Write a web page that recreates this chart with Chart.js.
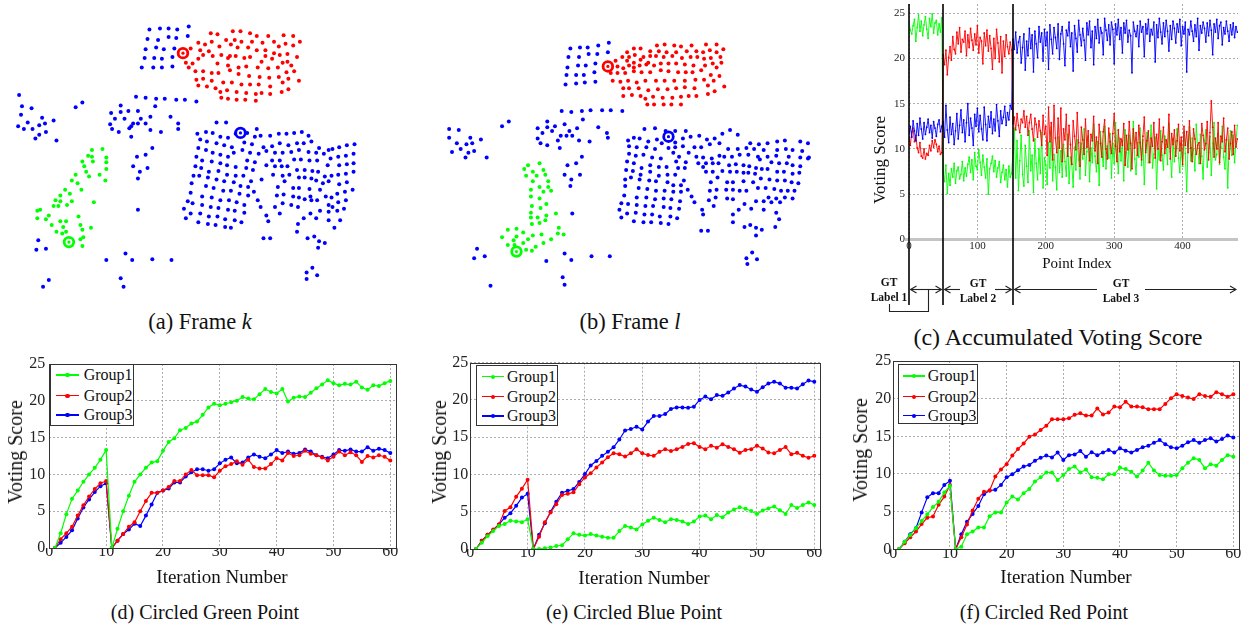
<!DOCTYPE html>
<html>
<head>
<meta charset="utf-8">
<title>Voting score figure</title>
<script src="https://cdn.jsdelivr.net/npm/chart.js@4.4.1/dist/chart.umd.min.js"></script>
<style>
  html, body { margin: 0; padding: 0; background: #fff; }
  body { position: relative; width: 1242px; height: 625px; overflow: hidden; font-family: "Liberation Serif", "Times New Roman", serif; color: #111; }
  .panel { position: absolute; }
  .panel canvas { display: block; }
  .txt { position: absolute; white-space: nowrap; line-height: 1; transform: translate(-50%, -50%); }
  .legend { position: absolute; border: 1px solid #333; background: #fff; box-sizing: border-box; }
  .legend div, .legend span { position: absolute; }
  .legend span { white-space: nowrap; line-height: 1; font-size: 16px; transform: translateY(-50%); }
</style>
</head>
<body>
<div class="panel" style="left:0;top:0"><canvas id="frameK" width="365" height="300"></canvas></div>
<div class="panel" style="left:430px;top:0"><canvas id="frameL" width="400" height="300"></canvas></div>
<div class="panel" style="left:860px;top:0"><canvas id="accScore" width="382" height="320"></canvas></div>
<div class="panel" style="left:0;top:352px"><canvas id="greenPt" width="400" height="215"></canvas></div>
<div class="panel" style="left:420px;top:352px"><canvas id="bluePt" width="405" height="215"></canvas></div>
<div class="panel" style="left:840px;top:352px"><canvas id="redPt" width="403" height="215"></canvas></div>
<script>
// ---- shared ----
const groupNames = ['Group1', 'Group2', 'Group3'];
const groupColors = ['#00ff00', '#ff0000', '#0000ff'];
const scoreTicks = [0, 5, 10, 15, 20, 25];
const iterTicks = [0, 10, 20, 30, 40, 50, 60];
const pointIndexTicks = [0, 100, 200, 300, 400];

// ---- (a) Frame k : point positions ----
const frameKGreen = [[88,150],[99,149],[84,156],[88,157],[78,162],[89,162],[103,158],[103,163],[80,167],[82,173],[85,178],[71,176],[103,170],[96,176],[102,182],[67,182],[73,185],[60,192],[65,196],[77,192],[55,198],[50,203],[55,204],[67,204],[48,209],[53,209],[62,208],[90,205],[31,214],[34,213],[43,219],[31,222],[40,223],[74,220],[46,229],[55,225],[61,225],[58,231],[76,229],[87,232],[51,236],[61,236],[78,234],[57,238],[79,242],[76,244],[78,251]];
const frameKRed = [[212,27],[219,28],[235,25],[243,25],[253,27],[260,30],[272,30],[288,29],[298,30],
  [199,37],[206,39],[213,36],[221,41],[228,34],[233,39],[237,34],[244,36],[240,42],[255,36],[251,42],[266,37],[260,45],[278,36],[283,41],[290,38],[298,40],[305,36],
  [191,43],[201,45],[210,46],[204,50],[199,54],[193,59],[186,58],[189,63],[214,51],[223,50],[230,53],[232,51],[238,51],[247,53],[253,52],[269,45],[278,48],[284,50],[292,49],[269,51],[265,57],[276,54],[287,58],[292,57],[296,61],[302,52],
  [219,59],[230,61],[241,63],[249,62],[261,63],[272,64],[282,63],[196,67],[204,67],[213,69],[220,69],[232,66],[241,70],[252,72],[263,73],[273,74],[283,73],[291,68],[299,67],[197,76],[204,75],[213,77],
  [199,82],[208,83],[217,85],[225,79],[234,79],[244,81],[253,81],[262,81],[274,83],[287,79],[293,75],[304,77],[222,89],[229,87],[239,89],[249,90],[259,91],[265,90],[274,91],[286,89],[293,86],
  [223,95],[230,96],[239,97],[248,97],[259,98]];
const frameKBlue = [[148,23],[159,22],[168,22],[177,23],[189,20],[146,33],[157,34],[168,31],[176,32],[188,30],[144,44],[155,42],[163,44],[174,43],[143,53],[153,53],[161,54],[172,52],[140,63],[152,63],[161,63],[172,62],
  [12,92],[15,104],[25,106],[36,116],[48,119],[14,113],[21,121],[33,124],[39,122],[17,128],[26,128],[40,131],[33,134],[29,138],[51,140],[11,125],[71,105],[78,100],
  [134,94],[144,95],[155,96],[164,96],[176,97],[185,97],[197,99],[118,103],[108,111],[118,110],[126,109],[136,109],[154,104],[170,115],[112,117],[122,117],[131,122],[136,122],[139,117],[144,122],[149,115],[107,123],[109,128],[116,131],[127,127],[129,125],[149,129],[160,131],[178,122],[178,128],[129,136],[151,148],[144,155],[135,157],[131,167],[146,169],[138,173],[136,180],[136,213],
  [218,121],[228,121],[260,128],[198,133],[207,131],[214,132],[222,136],[230,137],[238,133],[250,132],[258,136],[264,135],[274,135],[283,133],[291,133],[299,132],[307,131],[314,135],[201,139],[208,141],[218,143],[226,145],[234,147],[247,142],[255,144],[267,147],[276,146],[284,143],[293,145],[302,143],[309,143],[317,141],[325,148],[335,150],[199,148],[207,150],[214,153],[222,155],[230,157],[236,153],[245,150],[253,153],[262,154],[270,151],[279,153],[287,153],[296,152],[304,150],[314,152],[322,153],[330,154],[339,149],
  [197,157],[203,161],[213,162],[222,164],[229,166],[238,168],[250,161],[258,163],[270,166],[276,161],[279,167],[284,161],[286,167],[292,167],[299,160],[306,160],[315,161],[323,161],[334,166],[337,159],
  [196,167],[202,169],[210,173],[220,172],[229,176],[238,177],[246,177],[249,169],[256,171],[265,181],[277,176],[287,177],[294,176],[302,171],[310,171],[318,172],[324,173],[331,178],[338,177],[304,179],[310,179],[317,180],[322,182],[329,185],[335,183],[289,183],
  [194,177],[200,177],[209,179],[218,181],[226,183],[236,184],[243,188],[251,189],[254,183],[282,189],[281,198],[288,197],[298,190],[304,190],[315,191],[326,192],[332,199],[338,200],[335,208],
  [192,185],[191,195],[188,204],[184,212],[186,222],[191,217],[193,206],[199,226],[203,199],[207,188],[213,200],[215,190],[222,203],[225,193],[231,203],[233,193],[239,205],[242,196],[247,208],[251,198],[257,194],[261,203],[264,210],[270,219],[272,225],[279,210],[284,217],[287,206],[296,208],[298,199],[304,200],[303,210],[310,202],[316,199],[317,203],[323,203],[326,214],[322,222],[316,217],[309,222],[335,224],[335,215],[339,210],[201,217],[210,220],[219,220],[227,223],[237,224],[244,226],[247,216],[237,214],[230,213],[220,211],[212,210],[203,208],[209,228],[217,229],[227,231],[233,232],
  [346,147],[354,145],[362,144],[345,157],[353,156],[361,154],[346,166],[354,165],[361,164],[345,176],[353,175],[361,173],[346,186],[354,184],[344,196],[352,194],[360,192],[345,205],[353,203],[344,214],[351,212],[347,224],[341,232],
  [303,228],[302,236],[267,243],[274,243],[313,243],[320,241],[325,246],[331,248],[324,253],[318,274],[312,279],[323,282],[312,286],
  [32,245],[30,255],[40,254],[43,287],[37,294],[103,266],[123,259],[130,266],[151,265],[171,266],[118,285],[121,294]];
const frameKCircled = [[64,247],[183,48],[243,132]];

// ---- (b) Frame l : point positions ----
const frameLGreen = [[94,166],[106,164],[90,170],[99,173],[110,171],[92,177],[103,177],[112,176],[99,183],[115,183],[106,189],[115,189],[97,192],[110,194],[118,193],[97,199],[106,201],[98,209],[107,211],[113,207],[97,216],[97,221],[104,221],[113,219],[123,217],[98,228],[106,227],[112,224],[73,234],[82,233],[89,237],[82,241],[67,242],[79,245],[99,240],[108,239],[94,244],[89,248],[73,250],[80,250],[102,252],[110,248],[118,244],[126,232],[125,238],[131,239],[92,255],[98,256]];
const frameLRed = [[197,47],[204,43],[211,43],[221,46],[228,40],[236,39],[246,40],[253,41],[264,40],[279,39],[290,39],[192,52],[199,52],[205,50],[214,52],[221,51],[230,46],[238,47],[248,47],[259,46],[269,46],[276,47],[283,45],[290,47],[297,44],[185,56],[197,56],[204,58],[211,55],[219,58],[227,51],[235,52],[244,51],[254,53],[263,52],[270,52],[277,54],[284,53],[294,52],
  [187,62],[193,64],[199,61],[204,63],[210,61],[217,60],[225,61],[232,59],[240,59],[248,59],[257,60],[266,61],[278,61],[286,59],[290,63],[295,58],[180,69],[187,69],[195,69],[204,67],[212,68],[221,68],[232,66],[240,67],[250,68],[258,68],[265,68],[274,66],[284,71],[293,72],
  [182,77],[190,78],[198,77],[207,79],[216,77],[227,77],[236,77],[246,77],[257,77],[268,76],[277,76],[287,77],[281,82],[298,83],[193,85],[199,85],[209,85],[219,87],[229,86],[239,86],[248,85],[257,84],[267,85],[288,88],[193,93],[202,92],[211,93],[216,96],[224,94],[234,95],[244,95],[253,94],[261,93],[269,93],[281,91],[218,102],[225,102],[235,102],[243,102],[253,102]];
const frameLBlue = [[138,43],[148,42],[156,42],[167,40],[178,37],[136,52],[147,52],[157,49],[166,49],[177,47],[135,63],[146,61],[154,61],[164,59],[134,71],[144,71],[152,71],[163,68],[133,81],[144,80],[153,79],[164,78],
  [129,109],[139,110],[150,109],[159,108],[171,108],[180,108],[192,109],[74,120],[67,125],[104,127],[114,120],[114,126],[122,125],[132,123],[145,127],[151,118],[167,126],[137,130],[109,132],[119,130],[128,135],[134,135],[140,135],[104,138],[107,143],[114,145],[125,140],[127,148],[147,140],[158,141],[176,132],[177,137],[150,157],[135,166],[144,164],[132,176],[148,176],[139,181],[138,188],[140,217],
  [12,128],[22,129],[12,137],[34,137],[45,139],[20,143],[30,144],[36,143],[24,149],[15,152],[32,153],[38,151],[29,158],[51,158],
  [41,254],[38,264],[49,262],[55,293],[132,259],[139,266],[113,267],[160,262],[179,262],[130,284],[132,292],
  [215,128],[226,127],[237,130],[247,130],[258,130],[198,140],[204,137],[210,138],[219,141],[228,139],[233,143],[247,142],[255,138],[263,136],[272,135],[280,139],[288,138],[296,133],[304,129],[312,134],[325,143],[334,144],[343,143],[353,141],[361,140],[377,141],[385,143],
  [199,146],[207,147],[217,147],[226,149],[240,148],[247,147],[255,146],[267,147],[274,147],[283,144],[293,143],[302,149],[312,149],[321,148],[329,149],[339,150],[353,150],[362,149],[369,150],[379,151],
  [199,154],[206,156],[214,155],[223,158],[232,159],[245,153],[251,157],[261,153],[269,157],[276,158],[285,159],[293,156],[298,157],[306,157],[314,155],[323,155],[333,157],[343,157],[352,156],[365,157],[377,158],[386,158],
  [197,162],[204,164],[212,169],[221,166],[230,168],[238,168],[248,162],[258,163],[250,169],[257,169],[271,164],[276,168],[279,164],[286,164],[292,164],[303,166],[310,165],[318,166],[324,167],[335,160],[347,163],[355,164],[363,164],[369,166],[377,167],[385,159],
  [196,171],[203,172],[211,176],[221,173],[230,177],[239,176],[247,176],[256,182],[279,173],[286,173],[296,172],[304,173],[311,173],[318,174],[323,174],[330,175],[337,170],[343,170],[353,173],[360,173],[369,175],[376,174],[331,169],
  [195,181],[201,179],[210,181],[220,182],[227,183],[239,184],[245,187],[253,187],[260,192],[284,184],[291,179],[301,184],[307,184],[318,183],[328,184],[336,180],[345,181],[353,182],[361,182],[368,184],[375,185],
  [195,188],[209,190],[218,191],[227,193],[236,193],[245,194],[253,194],[264,199],[283,193],[290,192],[300,192],[307,192],[314,193],[321,193],[333,190],[341,190],[350,191],[357,193],[364,193],[371,193],[194,198],[207,200],[217,200],[226,202],[235,201],[243,202],[252,204],[267,205],[282,203],[289,200],[301,201],[307,202],[319,207],[331,204],[339,204],[344,200],[352,201],[361,200],[369,201],[347,205],[356,205],
  [191,206],[198,207],[207,208],[216,209],[224,209],[235,210],[242,211],[251,212],[275,213],[287,209],[313,213],[326,212],[339,213],[189,213],[197,217],[206,216],[215,218],[223,218],[231,220],[242,220],[249,222],[276,218],[307,218],[352,216],[355,223],[191,221],[204,225],[214,226],[222,226],[232,227],[240,228],[307,226],[319,231],[325,229],[331,232],[337,234],[351,231],[331,240],[274,235],[281,235],[327,258],[321,264],[332,265],[322,270]];
const frameLCircled = [[82,257],[177,62],[240,136]];

// ---- (c) accumulated voting score, one value every ACC_STEP point indices ----
const ACC_STEP = 2;
const gtBounds = [0, 49, 152];
const accGroup1 = [
  24.0,23.1,22.7,23.6,24.3,21.9,23.4,24.8,23.0,24.1,22.5,23.7,24.6,23.2,22.2,24.4,23.5,24.9,22.8,23.9,24.2,22.6,23.8,22.9,24.5,
  7.5,6.4,8.2,5.1,7.3,6.0,7.8,6.9,8.4,6.2, 7.6,8.0,6.7,7.2,8.6,6.5,7.9,7.0,8.3,9.1, 7.4,8.8,6.6,9.6,8.1,7.7,9.9,8.5,7.1,9.3,
  8.0,6.8,8.9,5.0,7.8,8.4,9.2,7.5,8.7,6.9, 7.9,8.6,6.3,7.4,8.2,6.6,7.7,5.8,8.1,6.9, 7.3,
  9.6,12.3,6.8,10.9,5.4,8.7,11.5,7.2,5.9,10.4, 8.1,6.3,12.0,7.6,9.3,5.2,11.1,8.4,6.6,10.0,
  7.3,11.8,5.7,9.0,8.2,6.1,10.7,7.9,12.4,6.5, 9.4,8.0,5.5,11.3,7.4,9.8,6.9,10.5,8.6,7.0,
  11.6,6.2,9.1,8.3,5.8,10.2,7.7,11.0,8.8,6.7, 10.6,8.9,12.2,7.1,9.7,11.4,6.4,10.1,8.5,12.7,
  9.2,7.5,10.8,6.0,11.9,9.5,8.1,12.5,7.8,10.3, 9.0,11.7,6.8,10.6,8.4,12.9,9.9,7.3,11.2,8.7,
  10.9,6.5,12.1,9.6,8.0,11.5,7.6,10.4,13.0,8.9, 7.2,10.7,9.1,12.3,8.2,11.0,6.1,9.8,11.8,8.5,
  10.2,12.6,7.9,9.4,11.3,5.6,10.0,8.8,12.0,9.3, 7.7,11.4,10.5,8.3,12.8,9.7,6.9,11.1,8.6,10.8,
  12.2,9.0,7.4,10.6,8.1,11.9,9.5,5.3,10.3,12.4, 8.7,11.2,9.9,7.6,12.7,10.1,8.4,11.6,9.2,6.7,
  10.9,12.1,8.0,9.6,11.4,7.1,10.6,12.9,8.8,9.4, 11.7,8.3,10.2,12.5,9.1,7.8,11.0,5.7,10.4,12.0,
  9.3,11.5,8.5,10.8,12.6];
const accGroup2 = [
  11.3,10.4,11.9,12.3,10.8,11.5,10.1,9.6,10.7,9.2,9.0,10.0,8.9,9.5,9.3,10.4,9.8,10.9,10.2,11.0,10.5,9.7,10.3,9.4,9.6,
  20.4,19.3,20.9,18.2,20.1,21.3,19.8,22.4,21.0,20.5, 22.9,21.6,23.4,20.7,22.1,21.8,23.0,20.3,22.6,21.2,
  23.3,22.0,20.9,22.7,21.5,23.6,20.6,22.3,21.9,19.4, 22.8,21.4,23.1,20.8,22.5,21.1,18.8,22.2,20.0,23.2,
  21.7,19.6,22.4,18.4,21.9,20.2,22.6,21.3,20.5,21.8, 20.9,
  12.8,13.5,12.1,13.9,12.6,11.8,13.3,12.9,14.2,12.4, 13.6,11.5,12.9,13.8,12.2,10.9,13.4,12.7,11.3,13.1,
  12.0,10.4,13.7,11.6,12.5,9.3,14.6,10.8,12.9,8.8, 14.8,11.2,9.6,13.4,10.1,14.5,8.6,12.2,11.0,13.8,
  9.2,12.6,10.5,8.3,13.1,11.4,9.9,14.0,10.7,8.1, 12.4,11.0,9.4,13.3,10.2,12.0,8.7,11.6,10.9,13.6,
  9.8,11.3,8.4,12.7,10.6,9.1,11.9,13.2,10.0,8.9, 12.3,10.8,9.5,11.7,13.9,10.3,8.6,12.1,9.7,11.1,
  10.4,12.8,8.2,11.5,9.9,13.0,10.6,7.8,12.2,10.1, 11.8,9.3,12.6,10.7,8.8,11.4,13.5,9.6,10.9,12.0,
  8.5,11.2,10.3,12.9,9.0,11.6,10.0,13.3,8.7,10.8, 12.4,9.5,11.0,10.2,13.8,8.9,11.7,10.5,12.1,9.2,
  10.9,12.7,9.8,11.3,8.3,12.5,10.4,11.9,9.6,13.1, 10.1,8.6,12.2,11.1,9.4,10.4,10.7,8.4,12.8,11.5,
  9.9,10.6,13.0,8.8,11.8,15.3,12.4,9.1,11.2,10.0, 12.9,8.5,11.4,10.8,13.4,9.7,11.0,12.3,8.9,10.6,
  11.9,9.4,12.6,10.2,11.1];
const accGroup3 = [
  11.7,12.5,11.3,13.1,12.0,10.9,12.8,11.5,13.4,12.2,11.1,12.9,11.6,12.4,13.3,11.8,12.6,11.2,13.0,12.3,11.4,12.7,13.2,11.9,12.5,
  13.0,11.3,14.8,12.1,10.7,13.5,11.6,12.8,10.5,12.0, 13.9,11.1,12.6,14.3,11.8,13.2,10.8,12.9,15.0,11.5,
  13.4,12.3,10.4,13.8,12.5,14.5,11.9,13.7,12.2,11.0, 14.6,12.7,10.9,13.6,12.4,14.1,11.7,13.3,12.0,14.9,
  13.1,11.4,14.2,12.8,13.5,14.7,12.6,14.0,13.2,14.8, 14.4,
  22.1,21.0,22.9,20.6,21.8,22.4,19.5,21.2,22.7,18.7, 21.9,20.3,23.3,21.1,22.6,18.5,23.0,21.6,20.1,23.5,
  21.8,22.8,19.7,23.2,21.4,22.9,18.8,23.7,22.1,20.5, 23.4,22.3,21.1,23.8,19.9,22.7,23.5,21.6,19.2,23.1,
  22.5,24.0,21.3,22.8,18.6,23.6,22.2,20.7,24.2,22.6, 21.4,23.3,22.0,19.8,23.9,22.6,24.1,21.2,23.0,19.3,
  23.5,22.2,24.3,21.7,23.4,22.8,20.4,24.4,23.1,22.0, 23.7,21.5,24.0,23.2,19.4,23.8,22.6,24.3,22.1,23.4,
  20.6,23.9,22.8,24.2,21.8,23.1,22.5,18.4,24.0,23.0, 22.4,23.6,21.3,24.1,22.9,23.5,20.2,23.8,22.7,24.3,
  21.9,23.2,22.6,24.0,19.6,23.7,22.3,24.4,22.9,21.6, 23.9,22.4,24.2,23.0,20.8,23.6,22.1,24.1,23.3,21.7,
  23.8,22.9,24.3,21.4,23.5,22.7,24.0,18.5,23.2,22.6, 24.1,23.0,21.9,23.7,22.4,24.4,20.9,23.6,22.8,24.0,
  23.3,21.8,23.9,22.5,24.2,23.1,20.4,23.8,22.9,24.3, 22.2,23.6,24.0,21.5,23.4,22.7,24.1,23.0,21.9,23.7,
  22.6,23.9,22.3,23.5,22.9];

// ---- (d)(e)(f) voting score per iteration ----
const iterations = Array.from({ length: 60 }, (_, i) => i + 1);
const dGroup1 = [0,2.0,4.6,6.7,7.8,9.0,10.0,10.9,12.0,13.3, 0,2.6,5.0,7.1,9.0,10.0,10.9,11.6,11.8,13.2, 14.4,14.9,16.0,16.3,16.9,17.2,18.1,19.1,19.6,19.4, 19.6,19.8,20.0,20.5,20.3,20.2,20.9,21.6,21.2,21.0, 21.6,19.9,20.4,20.6,20.5,21.1,21.7,22.2,22.8,22.4, 22.1,22.3,22.2,22.6,21.8,21.5,22.1,22.0,22.4,22.7];
const dGroup2 = [0,1.2,2.0,2.9,4.4,5.8,7.0,8.0,8.8,9.1, 0,1.0,1.9,2.9,3.5,5.0,6.4,7.5,7.5,7.8, 8.3,9.1,9.1,10.0,10.6,9.9,9.9,9.9,9.6,10.5, 11.1,11.4,11.8,11.3,12.0,11.0,10.8,10.8,11.4,12.2, 11.9,12.9,12.5,12.6,13.2,12.8,12.6,12.3,11.9,12.4, 13.1,12.6,13.0,12.6,11.7,12.5,12.3,12.6,12.4,11.9];
const dGroup3 = [0,0.7,1.5,2.4,4.0,5.5,6.6,7.6,8.4,8.8, 0,1.0,1.9,2.5,3.3,3.0,4.4,5.9,7.5,7.8, 8.1,8.9,8.9,9.7,10.3,10.7,10.7,10.5,10.7,11.5, 12.0,12.3,11.5,11.6,12.3,12.7,12.4,12.2,12.7,13.3, 12.9,13.1,12.8,12.9,13.4,13.1,12.6,12.4,12.2,12.7, 13.3,13.2,13.4,13.1,13.1,13.7,13.2,13.5,13.3,12.9];
const eGroup1 = [0,0.85,1.7,2.4,3.1,3.35,3.8,3.7,3.6,4.0, 0,0,0.1,0.2,0.4,0.5,1.3,2.1,1.9,1.8, 2.0,1.8,1.65,1.5,1.5,2.4,3.1,2.9,2.6,3.3, 3.8,4.2,3.9,3.6,4.0,3.9,3.7,3.35,3.7,4.35, 4.5,4.0,4.55,4.25,4.9,5.3,5.6,5.4,5.1,4.7, 5.15,5.45,5.7,5.2,4.7,5.9,5.5,5.9,6.25,5.9];
const eGroup2 = [0,1.1,1.9,2.6,3.3,5.1,5.6,7.0,8.1,9.3, 0,1.65,3.6,4.9,6.0,7.25,7.4,7.6,8.7,9.6, 10.15,10.95,11.6,12.3,12.85,12.7,12.4,12.85,13.4,12.85, 12.6,12.5,13.05,13.4,13.15,13.4,13.7,14.1,14.2,13.7, 13.4,13.85,13.6,14.05,13.7,13.4,12.9,13.3,13.4,13.85, 13.5,12.95,12.85,13.3,13.7,12.7,12.9,12.5,12.25,12.5];
const eGroup3 = [0,1.1,1.9,2.55,3.3,4.2,4.8,5.8,6.9,7.4, 0,1.9,3.45,5.0,6.35,7.55,7.8,8.05,9.0,10.05, 11.2,11.8,12.5,13.05,13.65,14.7,15.9,16.1,16.4,16.05, 17.1,17.85,17.85,18.1,18.8,19.0,19.0,18.95,19.1,20.0, 20.45,20.1,20.65,20.55,21.0,21.55,22.0,21.8,21.4,21.1, 21.7,22.2,22.45,22.2,21.65,21.65,21.55,22.1,22.6,22.45];
const fGroup1 = [0,1.0,1.9,2.8,3.75,4.65,5.6,6.3,7.55,8.4, 0,0.35,2.0,2.35,2.9,2.9,4.4,4.9,4.9,6.2, 7.0,6.6,7.45,8.0,9.0,9.55,10.2,10.2,9.2,9.85, 10.65,11.0,10.2,10.6,9.55,9.5,9.3,9.95,9.95,10.85, 10.65,10.3,9.65,10.45,11.5,10.45,9.85,9.75,9.75,9.85, 10.75,11.5,12.1,11.85,10.75,11.3,11.1,11.85,12.5,12.3];
const fGroup2 = [0,0.8,1.6,2.35,3.35,4.2,4.35,5.9,7.0,8.55, 0,1.6,3.3,5.15,6.7,7.65,7.8,9.65,10.6,11.3, 12.45,13.3,14.05,14.95,15.25,15.85,16.4,17.25,17.25,17.25, 17.4,17.85,18.05,17.75,17.75,18.7,17.9,18.15,18.95,18.85, 19.6,18.95,18.95,18.85,18.6,18.6,18.6,19.3,20.05,20.6, 20.35,20.15,19.95,20.6,20.35,20.25,20.85,20.6,20.25,20.6];
const fGroup3 = [0,1.0,2.0,2.8,4.9,6.9,7.45,7.45,8.55,9.1, 0,2.0,3.65,4.7,5.75,7.3,7.8,7.9,8.55,9.55, 9.95,10.5,11.0,11.2,11.75,12.15,12.45,12.2,12.85,11.85, 12.5,12.6,13.05,12.3,12.9,12.5,12.85,13.2,12.85,13.4, 13.1,12.85,13.2,13.55,13.75,14.15,14.5,13.95,13.55,13.4, 13.75,14.2,14.5,14.15,14.5,14.75,14.3,14.65,15.1,14.85];

// ---- helpers ----
Chart.defaults.font.family = '"Liberation Serif", "Times New Roman", serif';
Chart.defaults.color = '#222';

const useTicks = values => scale => { scale.ticks = values.map(value => ({ value })); };
const fixSize = (prop, size) => scale => {
  scale[prop] = size;
  scale.paddingLeft = scale.paddingRight = scale.paddingTop = scale.paddingBottom = 0;
};

// solid box round the plot area
const frameBox = {
  id: 'frameBox',
  afterDraw(chart) {
    const { ctx, chartArea: a } = chart;
    ctx.save();
    ctx.strokeStyle = '#333';
    ctx.lineWidth = 1;
    ctx.strokeRect(Math.round(a.left) + 0.5, Math.round(a.top) + 0.5, Math.round(a.right - a.left), Math.round(a.bottom - a.top));
    ctx.restore();
  }
};

function frameChart(id, groups, circled, w, h) {
  const datasets = [];
  circled.forEach(([x, y], g) => {
    datasets.push({ data: [{ x, y }], pointRadius: 1.6, backgroundColor: groupColors[g], borderWidth: 0, order: 0, clip: false });
    datasets.push({ data: [{ x, y }], pointRadius: 4.8, borderWidth: 2.8, borderColor: groupColors[g], backgroundColor: '#fff', order: 1, clip: false });
  });
  groups.forEach((pts, g) => {
    datasets.push({ data: pts.map(([x, y]) => ({ x, y })), pointRadius: 2, backgroundColor: groupColors[g], borderWidth: 0, order: 2, clip: false });
  });
  return new Chart(document.getElementById(id), {
    type: 'scatter',
    data: { datasets },
    options: {
      responsive: false, animation: false, events: [],
      layout: { padding: 0 },
      plugins: { legend: { display: false }, tooltip: { enabled: false } },
      scales: {
        x: { type: 'linear', min: 0, max: w, display: false },
        y: { type: 'linear', min: 0, max: h, reverse: true, display: false }
      }
    }
  });
}

function iterationChart(id, series, geo) {
  return new Chart(document.getElementById(id), {
    type: 'line',
    data: {
      datasets: series.map((vals, s) => ({
        label: groupNames[s],
        data: vals.map((v, i) => ({ x: iterations[i], y: v })),
        borderColor: groupColors[s],
        backgroundColor: groupColors[s],
        borderWidth: 1.2,
        pointRadius: 2,
        pointBorderWidth: 0,
        tension: 0
      }))
    },
    options: {
      responsive: false, animation: false, events: [],
      layout: { padding: { top: geo.padTop, right: geo.padRight, left: 0, bottom: 0 } },
      plugins: { legend: { display: false }, tooltip: { enabled: false } },
      scales: {
        x: {
          type: 'linear', min: 0, max: 61,
          afterBuildTicks: useTicks(iterTicks), afterFit: fixSize('height', geo.xH),
          grid: { color: '#9a9a9a', lineWidth: 0.8, drawTicks: false },
          border: { display: false, dash: [2, 2] },
          ticks: { padding: -4, maxRotation: 0, autoSkip: false, font: { size: 16, lineHeight: 1 } }
        },
        y: {
          type: 'linear', min: 0, max: 25,
          afterBuildTicks: useTicks(scoreTicks), afterFit: fixSize('width', geo.yW),
          grid: { color: '#9a9a9a', lineWidth: 0.8, drawTicks: false },
          border: { display: false, dash: [2, 2] },
          ticks: { padding: geo.yPad, font: { size: 16, lineHeight: 1 } }
        }
      }
    },
    plugins: [frameBox]
  });
}

// GT label separators and arrows under the accumulated chart
const gtMarks = {
  id: 'gtMarks',
  afterDraw(chart) {
    const { ctx, chartArea: area, scales: { x, y } } = chart;
    ctx.save();
    const y0 = y.getPixelForValue(0);
    ctx.strokeStyle = '#c4c4c4'; ctx.lineWidth = 3;
    ctx.beginPath(); ctx.moveTo(area.left - 4, y0); ctx.lineTo(area.right, y0); ctx.stroke();

    const px = gtBounds.map(v => Math.round(x.getPixelForValue(v)));
    const end = x.getPixelForValue(x.max) - 2;
    ctx.strokeStyle = '#000'; ctx.lineWidth = 1.6;
    px.forEach(p => { ctx.beginPath(); ctx.moveTo(p, area.top); ctx.lineTo(p, 305); ctx.stroke(); });

    const ay = 289.5;
    ctx.strokeStyle = '#222'; ctx.lineWidth = 1.1;
    const seg = (a, b) => { ctx.beginPath(); ctx.moveTo(a, ay); ctx.lineTo(b, ay); ctx.stroke(); };
    const head = (tip, dir) => {
      ctx.beginPath(); ctx.moveTo(tip + dir * 6, ay - 3.5); ctx.lineTo(tip, ay); ctx.lineTo(tip + dir * 6, ay + 3.5); ctx.stroke();
    };
    const ends = [[px[0] + 1.5, px[1] - 1.5, null], [px[1] + 1.5, px[2] - 1.5, [100, 135]], [px[2] + 1.5, end, [237, 285]]];
    ends.forEach(([a, b, gap]) => {
      if (gap) { seg(a, gap[0]); seg(gap[1], b); } else { seg(a, b); }
      head(a, 1); head(b, -1);
    });
    // bracket under the first label
    ctx.beginPath(); ctx.moveTo(68.5, ay); ctx.lineTo(68.5, 311.5); ctx.lineTo(29.5, 311.5); ctx.lineTo(29.5, 304); ctx.stroke();
    ctx.restore();
  }
};

// ---- build charts ----
frameChart('frameK', [frameKGreen, frameKRed, frameKBlue], frameKCircled, 365, 300);
frameChart('frameL', [frameLGreen, frameLRed, frameLBlue], frameLCircled, 400, 300);

const accSeries = [accGroup3, accGroup2, accGroup1];
const accColors = [groupColors[2], groupColors[1], groupColors[0]];
new Chart(document.getElementById('accScore'), {
  type: 'line',
  data: {
    datasets: accSeries.map((vals, s) => ({
      data: vals.map((v, k) => ({ x: k * ACC_STEP, y: v })),
      borderColor: accColors[s],
      backgroundColor: accColors[s],
      borderWidth: 0.9,
      pointRadius: 0.9,
      pointBorderWidth: 0,
      tension: 0
    }))
  },
  options: {
    responsive: false, animation: false, events: [],
    layout: { padding: { top: 2.6, right: 0, left: 0, bottom: 0 } },
    plugins: { legend: { display: false }, tooltip: { enabled: false } },
    scales: {
      x: {
        type: 'linear', min: 0, max: 481,
        afterBuildTicks: useTicks(pointIndexTicks), afterFit: fixSize('height', 80.5),
        grid: { color: '#9a9a9a', lineWidth: 0.8, drawTicks: false },
        border: { display: false, dash: [2, 2] },
        ticks: { padding: 1, maxRotation: 0, autoSkip: false, font: { size: 11, lineHeight: 1 } }
      },
      y: {
        type: 'linear', min: 0, max: 26,
        afterBuildTicks: useTicks(scoreTicks), afterFit: fixSize('width', 49),
        grid: { color: '#9a9a9a', lineWidth: 0.8, drawTicks: false },
        border: { display: false, dash: [2, 2] },
        ticks: { padding: 4, font: { size: 11, lineHeight: 1 } }
      }
    }
  },
  plugins: [gtMarks]
});

iterationChart('greenPt', [dGroup1, dGroup2, dGroup3], { padTop: 12, padRight: 3.6, xH: 19, yW: 49.3, yPad: 4 });
iterationChart('bluePt', [eGroup1, eGroup2, eGroup3], { padTop: 10.7, padRight: 5, xH: 18, yW: 50.3, yPad: 2 });
iterationChart('redPt', [fGroup1, fGroup2, fGroup3], { padTop: 9, padRight: 0, xH: 17.7, yW: 53.3, yPad: 2 });

// ---- html legends ----
function addLegend(g) {
  const box = document.createElement('div');
  box.className = 'legend';
  box.style.cssText = `left:${g.left}px;top:${g.top}px;width:${g.w}px;height:${g.h}px`;
  groupNames.forEach((name, s) => {
    const y = g.rows[s] - g.top - 1;
    const line = document.createElement('div');
    line.style.cssText = `left:${g.s0 - g.left}px;top:${y - 0.6}px;width:${g.s1 - g.s0}px;height:1.2px;background:${groupColors[s]}`;
    const dot = document.createElement('div');
    dot.style.cssText = `left:${(g.s0 + g.s1) / 2 - g.left - 2.2}px;top:${y - 2.2}px;width:4.4px;height:4.4px;border-radius:50%;background:${groupColors[s]}`;
    const label = document.createElement('span');
    label.textContent = name;
    label.style.cssText = `left:${g.tx - g.left}px;top:${y}px`;
    box.append(line, dot, label);
  });
  document.body.appendChild(box);
}
addLegend({ left: 50, top: 364, w: 84, h: 62, rows: [375, 395.7, 415], s0: 55, s1: 78, tx: 82.7 });
addLegend({ left: 476, top: 365, w: 82, h: 61, rows: [376.7, 396.7, 416], s0: 480.7, s1: 502.7, tx: 506 });
addLegend({ left: 897.7, top: 364, w: 80, h: 60, rows: [376, 396.7, 415.7], s0: 901.7, s1: 924.3, tx: 926.7 });

// ---- html text ----
function addText(html, cx, cy, size, opts = {}) {
  const el = document.createElement('div');
  el.className = 'txt';
  el.innerHTML = html;
  el.style.left = cx + 'px';
  el.style.top = cy + 'px';
  el.style.fontSize = size + 'px';
  if (opts.rotate) el.style.transform = 'translate(-50%, -50%) rotate(-90deg)';
  if (opts.bold) el.style.fontWeight = 'bold';
  if (opts.lh) { el.style.lineHeight = opts.lh + 'px'; el.style.textAlign = 'center'; }
  document.body.appendChild(el);
}
addText('(a) Frame <i>k</i>', 200, 322, 22.5);
addText('(b) Frame <i>l</i>', 630, 322, 22.5);
addText('(c) Accumulated Voting Score', 1058, 337, 24);
addText('(d) Circled Green Point', 205, 612, 20);
addText('(e) Circled Blue Point', 634, 612, 20);
addText('(f) Circled Red Point', 1044, 612, 20);

addText('Voting Score', 879, 160, 17, { rotate: true });
addText('Point Index', 1077, 263, 15);
addText('GT<br>Label 1', 889, 290, 11.5, { bold: true, lh: 15 });
addText('GT<br>Label 2', 978, 291, 11.5, { bold: true, lh: 15 });
addText('GT<br>Label 3', 1121, 291, 11.5, { bold: true, lh: 15 });

addText('Voting Score', 15, 452, 20, { rotate: true });
addText('Voting Score', 439, 452, 20, { rotate: true });
addText('Voting Score', 860, 450, 20, { rotate: true });
addText('Iteration Number', 222, 576, 19);
addText('Iteration Number', 644, 577, 19);
addText('Iteration Number', 1066, 576, 19);
</script>
</body>
</html>
